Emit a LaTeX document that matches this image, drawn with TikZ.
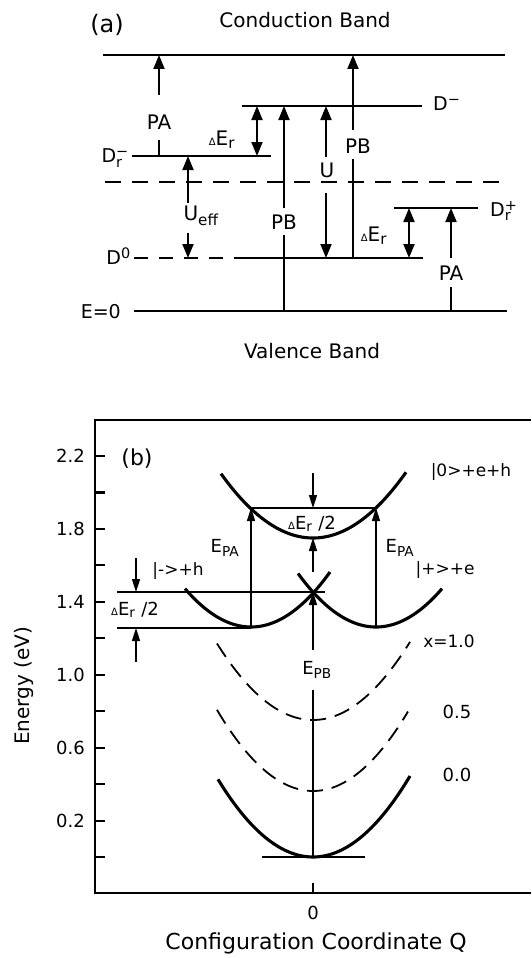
\documentclass[tikz,border=0pt]{standalone}
\usepackage{fontspec}
\usepackage{amsmath}
\setmainfont{DejaVu Sans}
\usetikzlibrary{arrows.meta}
\renewcommand\defaultscriptratio{.76}
\newcommand\dlt{{\fontsize{10}{10}\selectfont Δ}}
\begin{document}
\begin{tikzpicture}[x=1pt,y=-1pt,
  lvl/.style={line width=2.2pt},
  dsh/.style={line width=2.2pt,dash pattern=on 16pt off 11pt},
  dshB/.style={line width=2.2pt,dash pattern=on 14pt off 11pt},
  arA/.style={line width=2pt,-{Triangle[length=14pt,width=11pt]}},
  darA/.style={line width=2pt,{Triangle[length=14pt,width=11pt]}-{Triangle[length=14pt,width=11pt]}},
  arB/.style={line width=1.6pt,-{Triangle[length=13pt,width=8pt]}},
  thn/.style={line width=1.6pt},
  frm/.style={line width=2.1pt},
  cur/.style={line width=3.1pt},
  dcur/.style={line width=1.8pt,dash pattern=on 16pt off 9pt},
  ttl/.style={font=\fontsize{20}{24}\selectfont,inner sep=0pt},
  lab/.style={font=\fontsize{20}{22}\selectfont,inner sep=0pt},
  lvlab/.style={font=\fontsize{19}{22}\selectfont,inner sep=0pt},
  labB/.style={font=\fontsize{18}{20}\selectfont,inner sep=0pt},
  labS/.style={font=\fontsize{17}{20}\selectfont,inner sep=0pt},
  tck/.style={font=\fontsize{18}{20}\selectfont,inner sep=0pt,anchor=east}]
\useasboundingbox (0,0) rectangle (531,958);
\fill[white] (0,0) rectangle (531,958);

% ---------------- part (a) ----------------
\node[font=\fontsize{24}{26}\selectfont,inner sep=0pt] (ta) at (107,25) {(a)};
\node[ttl] (cb) at (305,20) {Conduction Band};
\node[ttl] (vb) at (312,351) {Valence Band};

\coordinate (cbL) at (103,55);  \coordinate (cbR) at (505,55);
\coordinate (dmL) at (242,106); \coordinate (dmR) at (422,106);
\coordinate (drmL) at (132,156); \coordinate (drmR) at (271,156);
\coordinate (dsL) at (105,182); \coordinate (dsR) at (505,182);
\coordinate (drpL) at (394,208); \coordinate (drpR) at (478,208);
\coordinate (d0L) at (134,258); \coordinate (d0M) at (240,258); \coordinate (d0R) at (423,258);
\coordinate (e0L) at (134,311); \coordinate (e0R) at (507,311);

\draw[lvl] (cbL) -- (cbR);
\draw[lvl] (dmL) -- (dmR);
\draw[lvl] (drmL) -- (drmR);
\draw[dsh] (dsL) -- (dsR);
\draw[lvl] (drpL) -- (drpR);
\draw[dshB] (d0L) -- (d0M);
\draw[lvl] (d0M) -- (d0R);
\draw[lvl] (e0L) -- (e0R);

\node[lvlab,anchor=west] (lDm) at (433,104) {D$^{\text{−}}$};
\node[lvlab,anchor=east] (lDrm) at (129,158) {D$^{\text{−}}_{\text{r}}$};
\node[lvlab,anchor=east] (lD0) at (131,256) {D$^{\text{0}}$};
\node[lvlab,anchor=west] (lDrp) at (490,211) {D$^{\text{+}}_{\text{r}}$};
\node[lvlab,anchor=east] (lE0) at (121,312) {E=0};

% PA (left)
\node[lab] (pa1) at (159,122) {PA};
\coordinate (pa1s) at (159,95); \coordinate (pa1t) at (159,55);
\coordinate (pa1u) at (159,140); \coordinate (pa1b) at (159,156);
\draw[arA] (pa1s) -- (pa1t);
\draw[lvl] (pa1u) -- (pa1b);
% Delta E_r (left)
\node[lab] (der1) at (222,140) {\dlt E$_{\text{r}}$};
\coordinate (der1a) at (257,106); \coordinate (der1b) at (257,156);
\draw[darA] (der1a) -- (der1b);
% PB (left)
\node[lab] (pb1) at (284,222) {PB};
\coordinate (pb1s) at (284,208); \coordinate (pb1t) at (284,106);
\coordinate (pb1u) at (284,235); \coordinate (pb1b) at (284,311);
\draw[arA] (pb1s) -- (pb1t);
\draw[lvl] (pb1u) -- (pb1b);
% U
\node[lab] (uu) at (327,170) {U};
\coordinate (us) at (326,157); \coordinate (ut) at (326,106);
\coordinate (ud) at (326,193); \coordinate (ub) at (326,258);
\draw[arA] (us) -- (ut);
\draw[arA] (ud) -- (ub);
% PB (right)
\node[lab] (pb2) at (358,146) {PB};
\coordinate (pb2s) at (353,130); \coordinate (pb2t) at (353,55);
\coordinate (pb2u) at (353,159); \coordinate (pb2b) at (353,258);
\draw[arA] (pb2s) -- (pb2t);
\draw[lvl] (pb2u) -- (pb2b);
% U_eff
\node[lab] (ueff) at (201,216) {U$_{\text{eff}}$};
\coordinate (ues) at (188,203); \coordinate (uet) at (188,156);
\coordinate (ued) at (188,233); \coordinate (ueb) at (188,258);
\draw[arA] (ues) -- (uet);
\draw[arA] (ued) -- (ueb);
% Delta E_r (right)
\node[lab] (der2) at (374,236) {\dlt E$_{\text{r}}$};
\coordinate (der2a) at (409,208); \coordinate (der2b) at (409,258);
\draw[darA] (der2a) -- (der2b);
% PA (right)
\node[lab] (pa2) at (451,273) {PA};
\coordinate (pa2s) at (451,258); \coordinate (pa2t) at (451,208);
\coordinate (pa2u) at (451,287); \coordinate (pa2b) at (451,311);
\draw[arA] (pa2s) -- (pa2t);
\draw[lvl] (pa2u) -- (pa2b);

% ---------------- part (b) ----------------
\draw[frm] (531,420) -- (95,420) -- (95,893) -- (531,893);
\foreach \e in {0,...,11} {\draw[frm] (95,{857-36.45*\e}) -- (105,{857-36.45*\e});}
\foreach \e/\t in {1/0.2,3/0.6,5/1.0,7/1.4,9/1.8,11/2.2}
  {\node[tck] (tk\e) at (85,{857-36.45*\e}) {\t};}
\coordinate (qb) at (313,893); \coordinate (qt) at (313,883);
\draw[frm] (qb) -- (qt);
\node[labB] (q0) at (313,913) {0};
\node[font=\fontsize{22}{24}\selectfont,inner sep=0pt] (xl) at (316,943) {Configuration Coordinate Q};
\node[font=\fontsize{20}{24}\selectfont,inner sep=0pt,rotate=90] (yl) at (24,686) {Energy (eV)};
\node[font=\fontsize{22}{24}\selectfont,inner sep=0pt] (tb) at (137,459) {(b)};

% curves
\draw[cur] plot[domain=-95:97,samples=60,smooth] ({313+\x},{857-0.0086*\x*\x});
\draw[dcur] plot[domain=-96:95,samples=60,smooth] ({313+\x},{791-0.0088*\x*\x});
\draw[dcur] plot[domain=-96:97,samples=60,smooth] ({313+\x},{720-0.0083*\x*\x});
\draw[cur] plot[domain=-66:79,samples=60,smooth] ({251+\x},{627-0.0088*\x*\x});
\draw[cur] plot[domain=-78:66,samples=60,smooth] ({376+\x},{627-0.0088*\x*\x});
\draw[cur] plot[domain=-92:93,samples=60,smooth] ({313+\x},{538-0.0076*\x*\x});

% horizontal lines
\coordinate (g0L) at (262,857); \coordinate (g0R) at (365,857);
\draw[thn] (g0L) -- (g0R);
\coordinate (chL) at (251,508); \coordinate (chR) at (376,508);
\draw[thn] (chL) -- (chR);
\coordinate (xL) at (117,592); \coordinate (xR) at (325,592);
\draw[thn] (xL) -- (xR);
\coordinate (mL) at (117,628); \coordinate (mR) at (251,628);
\draw[thn] (mL) -- (mR);

% arrows
\coordinate (ta1) at (313,473); \coordinate (tb1) at (313,508);
\draw[arB] (ta1) -- (tb1);
\coordinate (ua1) at (313,572); \coordinate (ub1) at (313,538);
\draw[arB] (ua1) -- (ub1);
\node[labB] (epb) at (317,670) {E$_{\text{PB}}$};
\coordinate (ep0) at (313,857); \coordinate (ep1) at (313,690);
\coordinate (ep2) at (313,650); \coordinate (ep3) at (313,592);
\draw[thn] (ep0) -- (ep1);
\draw[arB] (ep2) -- (ep3);
\coordinate (lpa0) at (251,627); \coordinate (lpa1) at (251,508);
\draw[arB] (lpa0) -- (lpa1);
\coordinate (rpa0) at (376,627); \coordinate (rpa1) at (376,508);
\draw[arB] (rpa0) -- (rpa1);
\coordinate (la0) at (136,558); \coordinate (la1) at (136,592);
\draw[arB] (la0) -- (la1);
\coordinate (lb0) at (136,662); \coordinate (lb1) at (136,628);
\draw[arB] (lb0) -- (lb1);

% labels (b)
\node[labB] (epaL) at (225,548) {E$_{\text{PA}}$};
\node[labB] (epaR) at (400,548) {E$_{\text{PA}}$};
\node[labS] (st0) at (471,472) {|0>+e+h};
\node[labS] (stp) at (445,570) {|+>+e};
\node[labS] (stm) at (178,571) {|->+h};
\node[labS] (x10) at (449,641) {x=1.0};
\node[labB] (x05) at (457,712) {0.5};
\node[labB] (x00) at (457,775) {0.0};
\node[labB] (dl1) at (135,610) {\dlt E$_{\text{r}}$ /2};
\node[labB] (dl2) at (312,524) {\dlt E$_{\text{r}}$ /2};
\end{tikzpicture}
\end{document}
